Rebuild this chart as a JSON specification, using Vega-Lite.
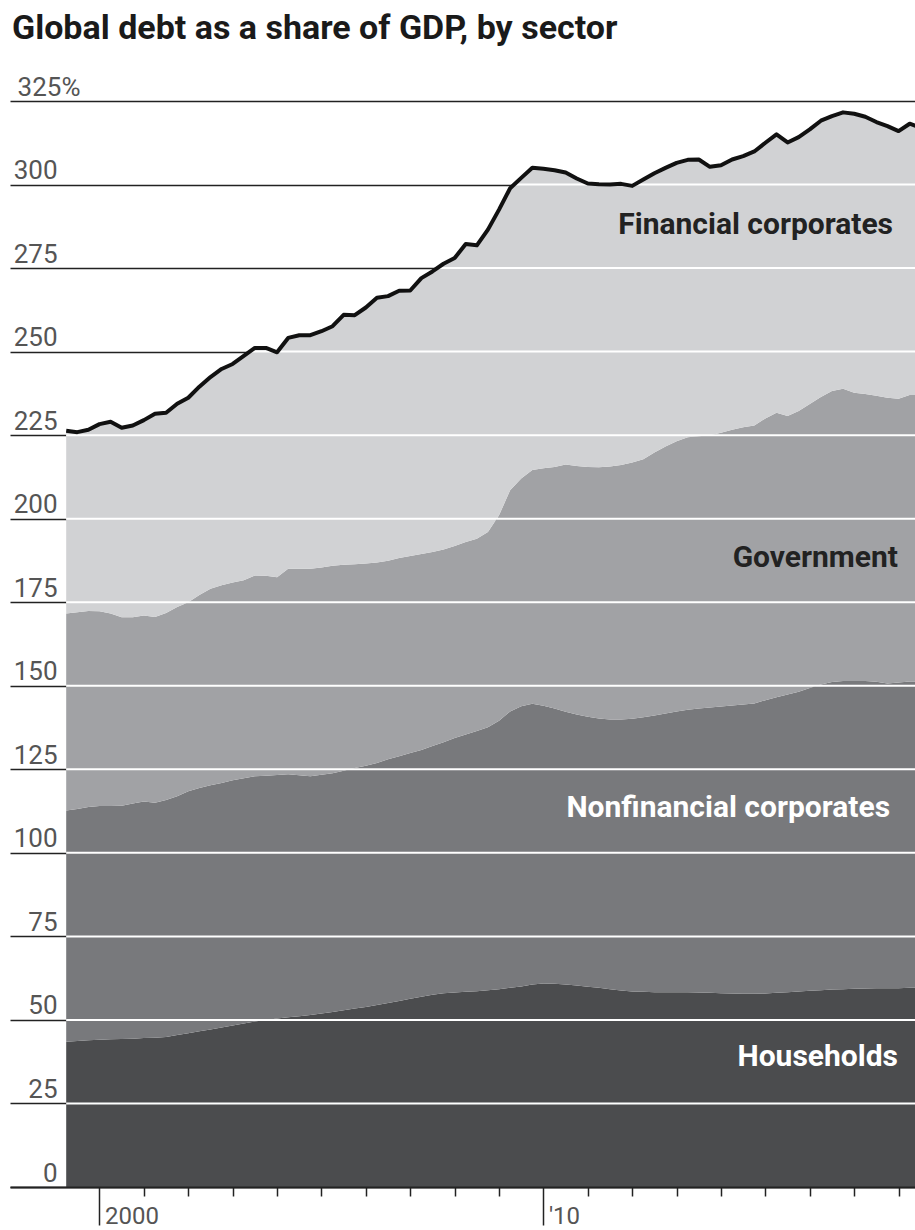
{
  "$schema": "https://vega.github.io/schema/vega-lite/v6.json",
  "autosize": {"type": "none"},
  "padding": {"left": 10, "top": 101, "right": 0, "bottom": 43},
  "width": 905,
  "height": 1086,
  "background": "white",
  "config": {"view": {"stroke": null}},
  "title": {"text": "Global debt as a share of GDP, by sector", "anchor": "start", "frame": "group", "font": "Roboto", "fontSize": 34, "fontWeight": "bold", "color": "#1a1a1a", "baseline": "alphabetic", "offset": 1, "dx": 2},
  "datasets": {
    "debt": [
      {"t": 1999.25, "households": 43.5, "nonfinancial": 69.2, "government": 58.9, "financial": 54.7, "total": 226.3},
      {"t": 1999.5, "households": 43.7, "nonfinancial": 69.4, "government": 58.9, "financial": 53.9, "total": 225.9},
      {"t": 1999.75, "households": 43.9, "nonfinancial": 69.8, "government": 58.7, "financial": 54.2, "total": 226.6},
      {"t": 2000.0, "households": 44.1, "nonfinancial": 69.9, "government": 58.3, "financial": 56.0, "total": 228.3},
      {"t": 2000.25, "households": 44.2, "nonfinancial": 69.8, "government": 57.6, "financial": 57.4, "total": 229.0},
      {"t": 2000.5, "households": 44.3, "nonfinancial": 69.8, "government": 56.4, "financial": 56.7, "total": 227.2},
      {"t": 2000.75, "households": 44.4, "nonfinancial": 70.4, "government": 55.7, "financial": 57.4, "total": 227.9},
      {"t": 2001.0, "households": 44.6, "nonfinancial": 70.8, "government": 55.6, "financial": 58.5, "total": 229.5},
      {"t": 2001.25, "households": 44.7, "nonfinancial": 70.3, "government": 55.6, "financial": 60.8, "total": 231.4},
      {"t": 2001.5, "households": 44.9, "nonfinancial": 70.9, "government": 56.0, "financial": 59.9, "total": 231.7},
      {"t": 2001.75, "households": 45.5, "nonfinancial": 71.4, "government": 56.7, "financial": 60.8, "total": 234.4},
      {"t": 2002.0, "households": 46.0, "nonfinancial": 72.4, "government": 56.6, "financial": 61.2, "total": 236.2},
      {"t": 2002.25, "households": 46.6, "nonfinancial": 72.8, "government": 57.8, "financial": 62.3, "total": 239.5},
      {"t": 2002.5, "households": 47.1, "nonfinancial": 73.1, "government": 58.8, "financial": 63.4, "total": 242.4},
      {"t": 2002.75, "households": 47.7, "nonfinancial": 73.2, "government": 59.2, "financial": 64.7, "total": 244.8},
      {"t": 2003.0, "households": 48.3, "nonfinancial": 73.4, "government": 59.2, "financial": 65.4, "total": 246.3},
      {"t": 2003.25, "households": 48.9, "nonfinancial": 73.4, "government": 59.3, "financial": 67.1, "total": 248.7},
      {"t": 2003.5, "households": 49.5, "nonfinancial": 73.4, "government": 60.1, "financial": 68.1, "total": 251.1},
      {"t": 2003.75, "households": 50.0, "nonfinancial": 73.1, "government": 59.8, "financial": 68.2, "total": 251.1},
      {"t": 2004.0, "households": 50.4, "nonfinancial": 72.9, "government": 59.2, "financial": 67.3, "total": 249.8},
      {"t": 2004.25, "households": 50.8, "nonfinancial": 72.7, "government": 61.5, "financial": 69.1, "total": 254.1},
      {"t": 2004.5, "households": 51.1, "nonfinancial": 72.1, "government": 61.8, "financial": 69.9, "total": 254.9},
      {"t": 2004.75, "households": 51.5, "nonfinancial": 71.4, "government": 62.1, "financial": 69.9, "total": 254.9},
      {"t": 2005.0, "households": 51.9, "nonfinancial": 71.5, "government": 62.0, "financial": 70.7, "total": 256.1},
      {"t": 2005.25, "households": 52.4, "nonfinancial": 71.4, "government": 62.1, "financial": 71.7, "total": 257.6},
      {"t": 2005.5, "households": 52.9, "nonfinancial": 71.7, "government": 61.6, "financial": 74.8, "total": 261.0},
      {"t": 2005.75, "households": 53.4, "nonfinancial": 72.0, "government": 61.0, "financial": 74.5, "total": 260.9},
      {"t": 2006.0, "households": 53.9, "nonfinancial": 72.2, "government": 60.5, "financial": 76.6, "total": 263.2},
      {"t": 2006.25, "households": 54.5, "nonfinancial": 72.4, "government": 60.0, "financial": 79.2, "total": 266.1},
      {"t": 2006.5, "households": 55.1, "nonfinancial": 72.9, "government": 59.4, "financial": 79.2, "total": 266.6},
      {"t": 2006.75, "households": 55.7, "nonfinancial": 73.2, "government": 59.3, "financial": 80.0, "total": 268.2},
      {"t": 2007.0, "households": 56.3, "nonfinancial": 73.6, "government": 58.9, "financial": 79.5, "total": 268.3},
      {"t": 2007.25, "households": 56.9, "nonfinancial": 73.9, "government": 58.6, "financial": 82.6, "total": 272.0},
      {"t": 2007.5, "households": 57.5, "nonfinancial": 74.5, "government": 58.0, "financial": 84.0, "total": 274.0},
      {"t": 2007.75, "households": 58.0, "nonfinancial": 75.1, "government": 57.7, "financial": 85.5, "total": 276.3},
      {"t": 2008.0, "households": 58.2, "nonfinancial": 76.2, "government": 57.4, "financial": 86.2, "total": 278.0},
      {"t": 2008.25, "households": 58.4, "nonfinancial": 77.0, "government": 57.6, "financial": 89.2, "total": 282.2},
      {"t": 2008.5, "households": 58.6, "nonfinancial": 77.9, "government": 57.5, "financial": 87.8, "total": 281.8},
      {"t": 2008.75, "households": 58.9, "nonfinancial": 78.7, "government": 58.4, "financial": 90.5, "total": 286.5},
      {"t": 2009.0, "households": 59.2, "nonfinancial": 80.3, "government": 61.5, "financial": 91.5, "total": 292.5},
      {"t": 2009.25, "households": 59.6, "nonfinancial": 82.7, "government": 66.2, "financial": 90.4, "total": 298.9},
      {"t": 2009.5, "households": 60.0, "nonfinancial": 83.9, "government": 68.1, "financial": 90.0, "total": 302.0},
      {"t": 2009.75, "households": 60.6, "nonfinancial": 84.0, "government": 70.0, "financial": 90.4, "total": 305.0},
      {"t": 2010.0, "households": 60.9, "nonfinancial": 83.1, "government": 71.1, "financial": 89.6, "total": 304.7},
      {"t": 2010.25, "households": 60.8, "nonfinancial": 82.4, "government": 72.3, "financial": 88.8, "total": 304.3},
      {"t": 2010.5, "households": 60.6, "nonfinancial": 81.6, "government": 74.0, "financial": 87.4, "total": 303.6},
      {"t": 2010.75, "households": 60.3, "nonfinancial": 81.1, "government": 74.4, "financial": 86.0, "total": 301.8},
      {"t": 2011.0, "households": 59.9, "nonfinancial": 80.8, "government": 74.8, "financial": 84.8, "total": 300.3},
      {"t": 2011.25, "households": 59.6, "nonfinancial": 80.6, "government": 75.2, "financial": 84.7, "total": 300.1},
      {"t": 2011.5, "households": 59.2, "nonfinancial": 80.7, "government": 75.7, "financial": 84.4, "total": 300.0},
      {"t": 2011.75, "households": 58.8, "nonfinancial": 81.1, "government": 76.2, "financial": 84.1, "total": 300.2},
      {"t": 2012.0, "households": 58.5, "nonfinancial": 81.6, "government": 76.7, "financial": 82.8, "total": 299.6},
      {"t": 2012.25, "households": 58.4, "nonfinancial": 82.2, "government": 77.2, "financial": 83.7, "total": 301.5},
      {"t": 2012.5, "households": 58.3, "nonfinancial": 82.8, "government": 78.7, "financial": 83.6, "total": 303.4},
      {"t": 2012.75, "households": 58.3, "nonfinancial": 83.4, "government": 79.9, "financial": 83.4, "total": 305.0},
      {"t": 2013.0, "households": 58.3, "nonfinancial": 84.0, "government": 80.9, "financial": 83.3, "total": 306.5},
      {"t": 2013.25, "households": 58.3, "nonfinancial": 84.5, "government": 81.6, "financial": 83.0, "total": 307.4},
      {"t": 2013.5, "households": 58.2, "nonfinancial": 85.0, "government": 81.5, "financial": 82.8, "total": 307.5},
      {"t": 2013.75, "households": 58.1, "nonfinancial": 85.4, "government": 81.5, "financial": 80.3, "total": 305.3},
      {"t": 2014.0, "households": 58.0, "nonfinancial": 85.8, "government": 81.9, "financial": 80.1, "total": 305.8},
      {"t": 2014.25, "households": 57.9, "nonfinancial": 86.2, "government": 82.5, "financial": 80.9, "total": 307.5},
      {"t": 2014.5, "households": 57.8, "nonfinancial": 86.6, "government": 83.0, "financial": 81.1, "total": 308.5},
      {"t": 2014.75, "households": 57.8, "nonfinancial": 86.9, "government": 83.2, "financial": 82.0, "total": 309.9},
      {"t": 2015.0, "households": 57.9, "nonfinancial": 87.8, "government": 84.3, "financial": 82.5, "total": 312.5},
      {"t": 2015.25, "households": 58.1, "nonfinancial": 88.5, "government": 85.1, "financial": 83.3, "total": 315.0},
      {"t": 2015.5, "households": 58.3, "nonfinancial": 89.1, "government": 83.3, "financial": 81.9, "total": 312.6},
      {"t": 2015.75, "households": 58.5, "nonfinancial": 89.7, "government": 84.0, "financial": 82.0, "total": 314.2},
      {"t": 2016.0, "households": 58.7, "nonfinancial": 90.6, "government": 85.0, "financial": 82.2, "total": 316.5},
      {"t": 2016.25, "households": 58.9, "nonfinancial": 91.5, "government": 86.0, "financial": 82.7, "total": 319.1},
      {"t": 2016.5, "households": 59.1, "nonfinancial": 92.0, "government": 87.1, "financial": 82.3, "total": 320.5},
      {"t": 2016.75, "households": 59.2, "nonfinancial": 92.2, "government": 87.5, "financial": 82.7, "total": 321.6},
      {"t": 2017.0, "households": 59.3, "nonfinancial": 92.1, "government": 86.3, "financial": 83.5, "total": 321.2},
      {"t": 2017.25, "households": 59.4, "nonfinancial": 92.0, "government": 85.9, "financial": 83.0, "total": 320.3},
      {"t": 2017.5, "households": 59.5, "nonfinancial": 91.7, "government": 85.6, "financial": 81.9, "total": 318.7},
      {"t": 2017.75, "households": 59.5, "nonfinancial": 91.2, "government": 85.5, "financial": 81.3, "total": 317.5},
      {"t": 2018.0, "households": 59.5, "nonfinancial": 91.5, "government": 84.9, "financial": 80.1, "total": 316.0},
      {"t": 2018.25, "households": 59.6, "nonfinancial": 91.7, "government": 85.7, "financial": 81.2, "total": 318.2},
      {"t": 2018.5, "households": 59.6, "nonfinancial": 91.6, "government": 85.8, "financial": 80.0, "total": 317.0}
    ],
    "grid": [
      {"v": 25, "from": 1999.25, "to": 2018.5},
      {"v": 50, "from": 1999.25, "to": 2018.5},
      {"v": 75, "from": 1999.25, "to": 2018.5},
      {"v": 100, "from": 1999.25, "to": 2018.5},
      {"v": 125, "from": 1999.25, "to": 2018.5},
      {"v": 150, "from": 1999.25, "to": 2018.5},
      {"v": 175, "from": 1999.25, "to": 2018.5},
      {"v": 200, "from": 1999.25, "to": 2018.5},
      {"v": 225, "from": 1999.25, "to": 2018.5},
      {"v": 250, "from": 2003.39, "to": 2018.5},
      {"v": 275, "from": 2007.61, "to": 2018.5},
      {"v": 300, "from": 2009.34, "to": 2018.5}
    ],
    "labels": [
      {"label": "Financial corporates", "t": 2017.875, "v": 287.9},
      {"label": "Government", "t": 2017.987, "v": 188.2},
      {"label": "Nonfinancial corporates", "t": 2017.808, "v": 113.4},
      {"label": "Households", "t": 2017.987, "v": 38.9}
    ]
  },
  "layer": [
    {
      "data": {"name": "debt"},
      "transform": [
        {"fold": ["households", "nonfinancial", "government", "financial"], "as": ["sector", "share"]},
        {"calculate": "indexof(['households','nonfinancial','government','financial'], datum.sector)", "as": "rank"}
      ],
      "mark": {"type": "area", "clip": true, "interpolate": "linear"},
      "encoding": {
        "x": {"field": "t", "type": "quantitative",
          "scale": {"domain": [1997.984, 2018.37], "nice": false, "zero": false},
          "axis": {"orient": "bottom", "title": null, "grid": false, "zindex": 1,
            "values": [2000, 2001, 2002, 2003, 2004, 2005, 2006, 2007, 2008, 2009, 2010, 2011, 2012, 2013, 2014, 2015, 2016, 2017, 2018],
            "domain": true, "domainColor": "#222", "domainWidth": 2,
            "ticks": true, "tickColor": "#222", "tickWidth": 1.5,
            "tickSize": {"condition": {"test": "datum.value == 2000 || datum.value == 2010", "value": 38}, "value": 9},
            "labelExpr": "datum.value == 2000 ? '2000' : (datum.value == 2010 ? \"'10\" : '')",
            "labelAlign": "left", "labelOffset": 5, "labelPadding": -21,
            "labelFont": "Roboto", "labelFontSize": 24, "labelColor": "#555",
            "labelFlush": false, "labelOverlap": false, "labelBound": false}},
        "y": {"field": "share", "type": "quantitative", "stack": "zero",
          "scale": {"domain": [0, 325], "nice": false},
          "axis": {"orient": "left", "title": null, "grid": true, "gridColor": "#222", "gridWidth": 1.6,
            "values": [0, 25, 50, 75, 100, 125, 150, 175, 200, 225, 250, 275, 300, 325],
            "domain": false, "ticks": false,
            "labelExpr": "datum.value == 325 ? '325%' : datum.label",
            "labelAlign": "right", "labelBaseline": "alphabetic", "labelOffset": -6,
            "labelPadding": {"condition": {"test": "datum.value == 325", "value": -70}, "value": -47},
            "labelFont": "Roboto", "labelFontSize": 26, "labelColor": "#555",
            "labelOverlap": false, "labelBound": false, "labelFlush": false}},
        "color": {"field": "sector", "type": "nominal",
          "sort": ["households", "nonfinancial", "government", "financial"],
          "scale": {"domain": ["households", "nonfinancial", "government", "financial"], "range": ["#4b4c4e", "#78797c", "#a1a2a5", "#d1d2d4"]},
          "legend": null},
        "order": {"field": "rank", "type": "quantitative", "sort": "ascending"}
      }
    },
    {
      "data": {"name": "grid"},
      "mark": {"type": "rule", "clip": true, "color": "white", "strokeWidth": 2},
      "encoding": {
        "x": {"field": "from", "type": "quantitative", "scale": {"domain": [1997.984, 2018.37], "nice": false, "zero": false}},
        "x2": {"field": "to"},
        "y": {"field": "v", "type": "quantitative"}
      }
    },
    {
      "data": {"name": "debt"},
      "mark": {"type": "line", "clip": true, "color": "#111", "strokeWidth": 4, "strokeJoin": "round"},
      "encoding": {
        "x": {"field": "t", "type": "quantitative", "scale": {"domain": [1997.984, 2018.37], "nice": false, "zero": false}},
        "y": {"field": "total", "type": "quantitative"}
      }
    },
    {
      "data": {"name": "labels"},
      "mark": {"type": "text", "align": "right", "baseline": "middle", "font": "Roboto", "fontSize": 30, "fontWeight": "bold"},
      "encoding": {
        "x": {"field": "t", "type": "quantitative", "scale": {"domain": [1997.984, 2018.37], "nice": false, "zero": false}},
        "y": {"field": "v", "type": "quantitative"},
        "text": {"field": "label"},
        "color": {"condition": {"test": "datum.label == 'Nonfinancial corporates' || datum.label == 'Households'", "value": "#ffffff"}, "value": "#222222"}
      }
    }
  ]
}
